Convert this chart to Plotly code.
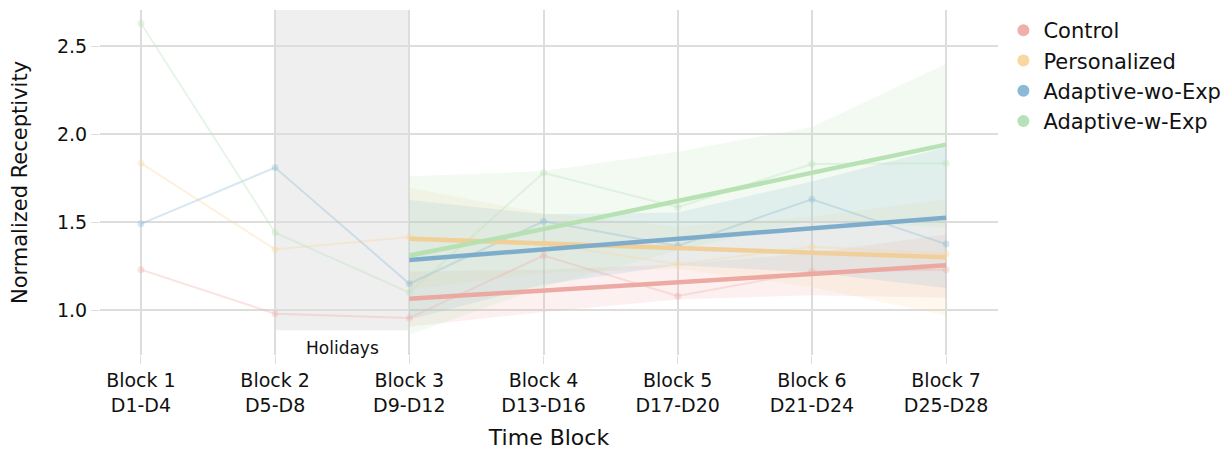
import plotly.graph_objects as go

blocks = [1, 2, 3, 4, 5, 6, 7]
tick_labels = ["Block 1<br>D1-D4", "Block 2<br>D5-D8", "Block 3<br>D9-D12", "Block 4<br>D13-D16",
               "Block 5<br>D17-D20", "Block 6<br>D21-D24", "Block 7<br>D25-D28"]
groups = ["Control", "Personalized", "Adaptive-wo-Exp", "Adaptive-w-Exp"]

control_raw = [1.23, 0.98, 0.955, 1.31, 1.08, 1.22, 1.23]
personalized_raw = [1.835, 1.345, 1.415, 1.38, 1.26, 1.36, 1.32]
adwo_raw = [1.49, 1.81, 1.15, 1.505, 1.365, 1.63, 1.375]
adw_raw = [2.63, 1.44, 1.10, 1.78, 1.585, 1.83, 1.835]

fit_blocks = [3, 4, 5, 6, 7]
control_fit = [1.065, 1.11, 1.16, 1.205, 1.255]
personalized_fit = [1.405, 1.38, 1.355, 1.33, 1.30]
adwo_fit = [1.285, 1.345, 1.405, 1.465, 1.525]
adw_fit = [1.31, 1.46, 1.62, 1.78, 1.94]

control_lo = [0.905, 0.99, 1.06, 1.085, 1.07]
control_hi = [1.22, 1.23, 1.26, 1.325, 1.43]
personalized_lo = [1.115, 1.21, 1.235, 1.13, 0.97]
personalized_hi = [1.695, 1.55, 1.475, 1.53, 1.63]
adwo_lo = [0.945, 1.145, 1.255, 1.215, 1.125]
adwo_hi = [1.625, 1.545, 1.555, 1.73, 1.925]
adw_lo = [0.86, 1.13, 1.34, 1.51, 1.47]
adw_hi = [1.76, 1.79, 1.90, 2.04, 2.40]

colors = [(240, 175, 170), (248, 215, 160), (140, 185, 215), (185, 225, 185)]
fit_colors = [(235, 165, 158), (240, 205, 150), (120, 170, 202), (180, 224, 176)]

raws = [control_raw, personalized_raw, adwo_raw, adw_raw]
fits = [control_fit, personalized_fit, adwo_fit, adw_fit]
los = [control_lo, personalized_lo, adwo_lo, adw_lo]
his = [control_hi, personalized_hi, adwo_hi, adw_hi]

def rgba(c, a):
    return f"rgba({c[0]},{c[1]},{c[2]},{a})"

fig = go.Figure()

for name, c, lo, hi in zip(groups, colors, los, his):
    fig.add_trace(go.Scatter(x=fit_blocks, y=hi, mode="lines", line=dict(width=0),
                             showlegend=False, hoverinfo="skip"))
    fig.add_trace(go.Scatter(x=fit_blocks, y=lo, mode="lines", line=dict(width=0),
                             fill="tonexty", fillcolor=rgba(c, 0.18),
                             showlegend=False, hoverinfo="skip"))

for name, c, r in zip(groups, colors, raws):
    fig.add_trace(go.Scatter(x=blocks, y=r, mode="lines+markers",
                             line=dict(color=rgba(c, 0.35), width=2),
                             marker=dict(color=rgba(c, 0.35), size=7),
                             showlegend=False, name=name))

for name, c, f in zip(groups, fit_colors, fits):
    fig.add_trace(go.Scatter(x=fit_blocks, y=f, mode="lines",
                             line=dict(color=rgba(c, 0.95), width=4.5),
                             showlegend=False, name=name))

for name, c in zip(groups, colors):
    fig.add_trace(go.Scatter(x=[None], y=[None], mode="markers", name=name,
                             marker=dict(color=rgba(c, 1), size=13)))

fig.add_shape(type="rect", xref="x", yref="y", x0=2, x1=3, y0=0.886, y1=2.705,
              fillcolor="#EFEFEF", line=dict(width=0), layer="below")
fig.add_annotation(x=2.5, y=0.784, xref="x", yref="y", text="Holidays", showarrow=False,
                   font=dict(size=17, color="#111111"))

fig.update_layout(
    width=1223, height=442,
    margin=dict(l=92, r=233, t=2, b=95),
    paper_bgcolor="white", plot_bgcolor="white",
    font=dict(family="DejaVu Sans", size=19, color="#111111"),
    legend=dict(x=1.006, y=1.0, xanchor="left", yanchor="top", font=dict(size=21),
                itemsizing="constant", tracegroupgap=0, traceorder="normal"),
    xaxis=dict(range=[0.695, 7.387], tickmode="array", tickvals=blocks, ticktext=tick_labels,
               showgrid=True, gridcolor="#DDDDDD", gridwidth=1.5, zeroline=False,
               ticks="outside", ticklen=8, tickcolor="#DDDDDD",
               title=dict(text="Time Block", font=dict(size=22), standoff=15)),
    yaxis=dict(range=[0.745, 2.705], tickvals=[1.0, 1.5, 2.0, 2.5], ticktext=["1.0", "1.5", "2.0", "2.5"],
               showgrid=True, gridcolor="#DDDDDD", gridwidth=1.5, zeroline=False,
               ticks="outside", ticklen=8, tickcolor="#DDDDDD",
               title=dict(text="Normalized Receptivity", font=dict(size=21), standoff=25)),
)

fig.write_html("out.html")
